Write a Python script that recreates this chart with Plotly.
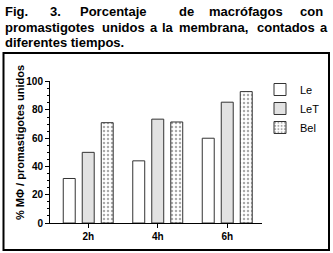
import plotly.graph_objects as go

categories = ["2h", "4h", "6h"]
le = [31.5, 44, 60]
let_ = [50, 73.5, 85.5]
bel = [71, 71.5, 93]
series_names = ["Le", "LeT", "Bel"]

W, H = 333, 253
L, R, T, B = 50, 71, 81, 30
PW, PH = W - L - R, H - T - B

def px(x):
    return (x - L) / PW

def py(y):
    return (H - B - y) / PH

FONT = "Liberation Sans, Arial, sans-serif"

fig = go.Figure()
fig.add_trace(go.Bar(x=categories, y=le, name=series_names[0],
                     marker=dict(color="white", line=dict(color="#333", width=1))))
fig.add_trace(go.Bar(x=categories, y=let_, name=series_names[1],
                     marker=dict(color="white", line=dict(color="#333", width=1),
                                 pattern=dict(shape=".", size=2, solidity=0.5,
                                              fgcolor="#777", bgcolor="white"))))
fig.add_trace(go.Bar(x=categories, y=bel, name=series_names[2],
                     marker=dict(color="white", line=dict(color="#333", width=1),
                                 pattern=dict(shape=".", size=4, solidity=0.3,
                                              fgcolor="#555", bgcolor="white"))))

fig.update_layout(
    width=W, height=H,
    margin=dict(l=L, r=R, t=T, b=B, autoexpand=False),
    paper_bgcolor="white", plot_bgcolor="white",
    barmode="group", bargap=0.18, bargroupgap=0.37,
    font=dict(family=FONT, color="black"),
    showlegend=True,
    legend=dict(x=px(260), y=py(75), xanchor="left", yanchor="top",
                font=dict(size=11, family=FONT),
                bgcolor="rgba(0,0,0,0)", itemwidth=30, tracegroupgap=0),
    xaxis=dict(range=[-0.55, 2.5], showline=True, linecolor="black", linewidth=1,
               ticks="outside", ticklen=4, tickcolor="black",
               tickfont=dict(size=10, family=FONT, weight="bold"),
               showgrid=False, zeroline=False, automargin=False),
    yaxis=dict(range=[0, 100.5], showline=True, linecolor="black", linewidth=1,
               ticks="outside", ticklen=4, tickcolor="black",
               tickmode="array", tickvals=[0, 20, 40, 60, 80, 100],
               ticktext=["0", "20", "40", "60", "80", "100"],
               minor=dict(dtick=5, ticks="outside", ticklen=2, tickcolor="black"),
               tickfont=dict(size=10, family=FONT, weight="bold"),
               showgrid=False, zeroline=False, automargin=False),
)

fig.add_annotation(x=px(20), y=py(143), xref="paper", yref="paper",
                   xanchor="center", yanchor="middle",
                   text="<b>% MΦ / promastigotes unidos</b>", textangle=-90,
                   showarrow=False, font=dict(size=11, family=FONT))

# Title, justified word by word
line1 = [("Fig.", 3), ("3.", 48), ("Porcentaje", 78), ("de", 177), ("macrófagos", 207), ("con", 298)]
line2 = [("promastigotes", 3), ("unidos", 100), ("a", 148), ("la", 160),
         ("membrana,", 177), ("contados", 255), ("a", 318)]
for words, yy in ((line1, 11), (line2, 27)):
    for word, x in words:
        fig.add_annotation(x=px(x), y=py(yy), xref="paper", yref="paper", xanchor="left",
                           yanchor="middle", text=f"<b>{word}</b>", showarrow=False,
                           font=dict(size=13, family=FONT))
fig.add_annotation(x=px(3), y=py(43), xref="paper", yref="paper", xanchor="left",
                   yanchor="middle", text="<b>diferentes tiempos.</b>",
                   showarrow=False, font=dict(size=13, family=FONT))

fig.add_shape(type="rect", xref="paper", yref="paper",
              x0=px(3.5), x1=px(329), y0=py(250), y1=py(53),
              line=dict(color="black", width=2))

fig.write_html("out.html", config={"displayModeBar": False},
               post_script="document.body.style.margin='0';document.body.style.padding='0';")
